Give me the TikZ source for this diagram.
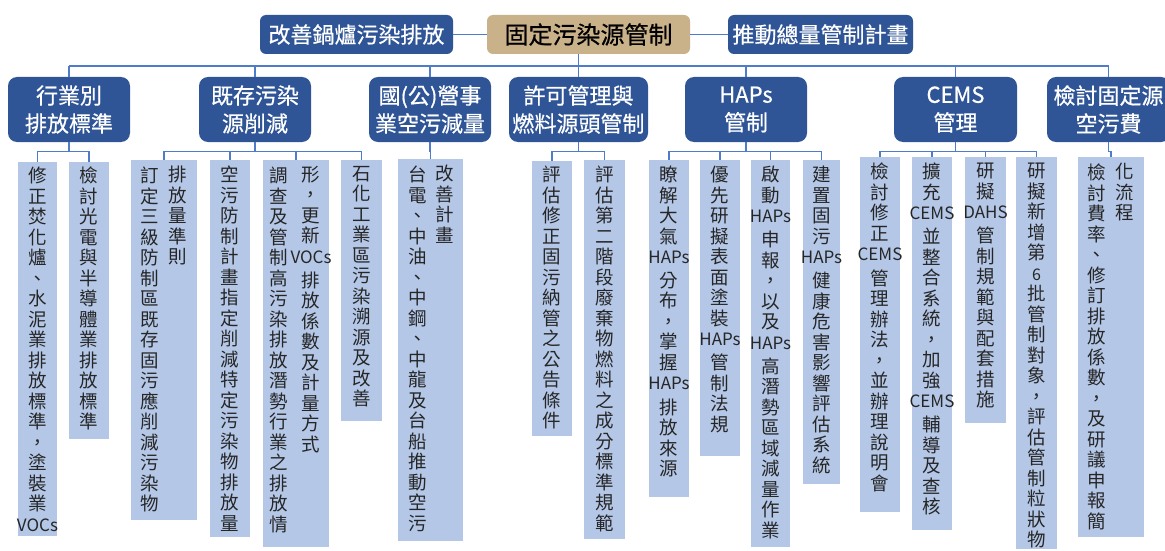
\documentclass[tikz,border=0pt]{standalone}
\usepackage{fontspec}
\setmainfont{Noto Sans CJK TC}
\newfontfamily\cjkb[FakeBold=0.6]{Noto Sans CJK TC}
\definecolor{dblue}{HTML}{2F5597}
\definecolor{lblue}{HTML}{B4C7E7}
\definecolor{tanc}{HTML}{C9B18A}
\definecolor{lnc}{HTML}{4F7BCB}
\newcommand\vt[1]{\vtA#1 \vtend}
\def\vtA#1 #2\vtend{#1\ifx\relax#2\relax\else\\\vtA#2\vtend\fi}
\newcommand\lw[1]{\rule[-7.5pt]{0pt}{21pt}{\fontsize{17}{20.5}\selectfont #1}}
\newcommand\ls[1]{{\fontsize{16}{20.5}\selectfont #1}}
\begin{document}
\begin{tikzpicture}[x=1pt,y=-1pt,
  conn/.style={draw=lnc, line width=1.2pt},
  topbox/.style={fill=dblue, rounded corners=6pt, text=white, font=\cjkb\fontsize{22}{26}\selectfont, inner sep=0pt},
  rootbox/.style={fill=tanc, rounded corners=6pt, text=black, font=\cjkb\fontsize{24}{28}\selectfont, inner sep=0pt},
  midbox/.style={fill=dblue, rounded corners=9pt, text=white, align=center, font=\cjkb\fontsize{22}{28}\selectfont, inner sep=0pt, minimum height=65pt},
  leafbox/.style={fill=lblue, inner sep=0pt, anchor=north},
  leaftext/.style={align=center, font=\fontsize{18.5}{20.5}\selectfont, inner sep=0pt, anchor=north, text=black!85},
]
\useasboundingbox (0,0) rectangle (1165,551);
% top row
\node[topbox, minimum width=193pt, minimum height=39pt] (t1) at (356.5,34.5) {改善鍋爐污染排放};
\node[rootbox, minimum width=203pt, minimum height=39pt] (root) at (588.5,34.5) {固定污染源管制};
\node[topbox, minimum width=185pt, minimum height=39pt] (t2) at (820.5,34.5) {推動總量管制計畫};
% level 2
\node[midbox, minimum width=122pt] (l1) at (69,109.5) {行業別\\排放標準};
\node[midbox, minimum width=112pt] (l2) at (255,109.5) {既存污染\\源削減};
\node[midbox, minimum width=122pt] (l3) at (430,109.5) {國(公)營事\\業空污減量};
\node[midbox, minimum width=139pt] (l4) at (578.5,109.5) {許可管理與\\燃料源頭管制};
\node[midbox, minimum width=122pt] (l5) at (746,109.5) {HAPs\\管制};
\node[midbox, minimum width=123pt] (l6) at (955.5,109.5) {CEMS\\管理};
\node[midbox, minimum width=123pt] (l7) at (1108.5,109.5) {檢討固定源\\空污費};
% leaves
\node[leafbox, minimum width=39pt, minimum height=374pt] (a1) at (37.5,162) {};
\node[leafbox, minimum width=40pt, minimum height=277pt] (a2) at (89,162) {};
\node[leafbox, minimum width=66pt, minimum height=360pt] (b1) at (164,160) {};
\node[leafbox, minimum width=40pt, minimum height=377pt] (b2) at (230,160) {};
\node[leafbox, minimum width=66pt, minimum height=387pt] (b3) at (296,160) {};
\node[leafbox, minimum width=41pt, minimum height=261pt] (b4) at (361.5,160) {};
\node[leafbox, minimum width=65pt, minimum height=382pt] (c1) at (430.5,159) {};
\node[leafbox, minimum width=40pt, minimum height=275pt] (d1) at (552,161) {};
\node[leafbox, minimum width=41pt, minimum height=379pt] (d2) at (604.5,160) {};
\node[leafbox, minimum width=40pt, minimum height=337pt] (e1) at (669,160) {};
\node[leafbox, minimum width=40pt, minimum height=296pt] (e2) at (720,160) {};
\node[leafbox, minimum width=39pt, minimum height=387pt] (e3) at (770.5,160) {};
\node[leafbox, minimum width=37pt, minimum height=324pt] (e4) at (821.5,160) {};
\node[leafbox, minimum width=40pt, minimum height=355pt] (f1) at (880,157) {};
\node[leafbox, minimum width=40pt, minimum height=373pt] (f2) at (932,157) {};
\node[leafbox, minimum width=41pt, minimum height=266pt] (f3) at (985.5,157) {};
\node[leafbox, minimum width=41pt, minimum height=392pt] (f4) at (1036.5,157) {};
\node[leafbox, minimum width=66pt, minimum height=380pt] (g1) at (1111,157) {};
% leaf texts
\node[leaftext] (a1t) at ([yshift=-5pt]a1.north) {\vt{修 正 焚 化 爐 、 水 泥 業 排 放 標 準 ， 塗 裝 業 \lw{VOCs}}};
\node[leaftext] (a2t) at ([yshift=-5pt]a2.north) {\vt{檢 討 光 電 與 半 導 體 業 排 放 標 準}};
\node[leaftext] (b1l) at ([xshift=-14pt,yshift=-7pt]b1.north) {\vt{訂 定 三 級 防 制 區 既 存 固 污 應 削 減 污 染 物}};
\node[leaftext] (b1r) at ([xshift=14pt,yshift=-6pt]b1.north) {\vt{排 放 量 準 則}};
\node[leaftext] (b2t) at ([yshift=-6pt]b2.north) {\vt{空 污 防 制 計 畫 指 定 削 減 特 定 污 染 物 排 放 量}};
\node[leaftext] (b3l) at ([xshift=-17pt,yshift=-7pt]b3.north) {\vt{調 查 及 管 制 高 污 染 排 放 潛 勢 行 業 之 排 放 情}};
\node[leaftext] (b3r) at ([xshift=15pt,yshift=-6pt]b3.north) {\vt{形 ， 更 新 \lw{VOCs} 排 放 係 數 及 計 量 方 式}};
\node[leaftext] (b4t) at ([yshift=-6pt]b4.north) {\vt{石 化 工 業 區 污 染 溯 源 及 改 善}};
\node[leaftext] (c1l) at ([xshift=-12.5pt,yshift=-7pt]c1.north) {\vt{台 電 、 中 油 、 中 鋼 、 中 龍 及 台 船 推 動 空 污}};
\node[leaftext] (c1r) at ([xshift=14.5pt,yshift=-6pt]c1.north) {\vt{改 善 計 畫}};
\node[leaftext] (d1t) at ([yshift=-5pt]d1.north) {\vt{評 估 修 正 固 污 納 管 之 公 告 條 件}};
\node[leaftext] (d2t) at ([yshift=-6pt]d2.north) {\vt{評 估 第 二 階 段 廢 棄 物 燃 料 之 成 分 標 準 規 範}};
\node[leaftext] (e1t) at ([yshift=-6pt]e1.north) {\vt{瞭 解 大 氣 \lw{HAPs} 分 布 ， 掌 握 \lw{HAPs} 排 放 來 源}};
\node[leaftext] (e2t) at ([yshift=-6pt]e2.north) {\vt{優 先 研 擬 表 面 塗 裝 \lw{HAPs} 管 制 法 規}};
\node[leaftext] (e3t) at ([yshift=-6pt]e3.north) {\vt{啟 動 \lw{HAPs} 申 報 ， 以 及 \lw{HAPs} 高 潛 勢 區 域 減 量 作 業}};
\node[leaftext] (e4t) at ([yshift=-6pt]e4.north) {\vt{建 置 固 污 \lw{HAPs} 健 康 危 害 影 響 評 估 系 統}};
\node[leaftext] (f1t) at ([yshift=-6pt]f1.north) {\vt{檢 討 修 正 \lw{CEMS} 管 理 辦 法 ， 並 辦 理 說 明 會}};
\node[leaftext] (f2t) at ([yshift=-6pt]f2.north) {\vt{擴 充 \lw{CEMS} 並 整 合 系 統 ， 加 強 \lw{CEMS} 輔 導 及 查 核}};
\node[leaftext] (f3t) at ([yshift=-6pt]f3.north) {\vt{研 擬 \lw{DAHS} 管 制 規 範 與 配 套 措 施}};
\node[leaftext] (f4t) at ([yshift=-6pt]f4.north) {\vt{研 擬 新 增 第 \ls{6} 批 管 制 對 象 ， 評 估 管 制 粒 狀 物}};
\node[leaftext] (g1l) at ([xshift=-14pt,yshift=-7pt]g1.north) {\vt{檢 討 費 率 、 修 訂 排 放 係 數 ， 及 研 議 申 報 簡}};
\node[leaftext] (g1r) at ([xshift=14pt,yshift=-6pt]g1.north) {\vt{化 流 程}};
% connectors
\draw[conn] (t1) -- (root);
\draw[conn] (root) -- (t2);
\coordinate (bus) at (578.5,66);
\draw[conn] (root.south -| l4.north) -- (l4.north);
\draw[conn] (bus -| l1.north) -- (bus -| l7.north);
\foreach \n in {l1,l2,l3,l5,l6,l7} \draw[conn] (bus -| \n.north) -- (\n.north);
\foreach \p/\c in {l1/a1,l1/a2,l2/b1,l2/b2,l2/b3,l2/b4,l3/c1,l4/d1,l4/d2,l5/e1,l5/e2,l5/e3,l5/e4,l6/f1,l6/f2,l6/f3,l6/f4,l7/g1}
  \draw[conn] (\p.south) -- ++(0,9.5) -| (\c.north);
\end{tikzpicture}
\end{document}
